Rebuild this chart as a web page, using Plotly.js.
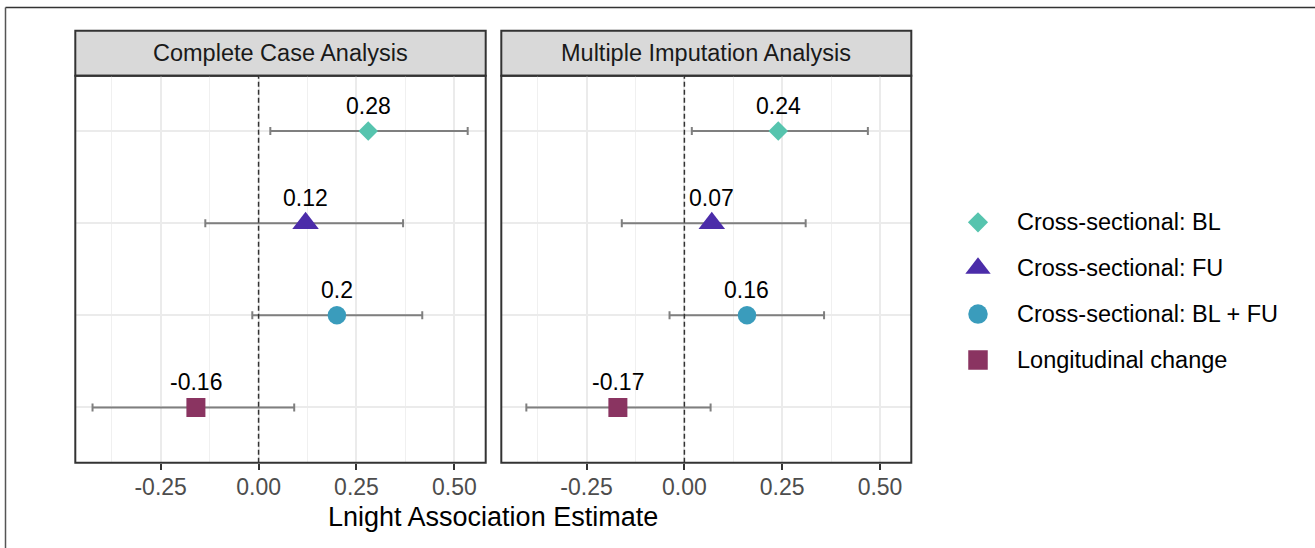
<!DOCTYPE html>
<html>
<head>
<meta charset="utf-8">
<script src="https://cdn.plot.ly/plotly-3.0.1.min.js"></script>
<style>
  html, body { margin: 0; padding: 0; background: #ffffff; }
  #chart { width: 1315px; height: 548px; }
</style>
</head>
<body>
<div id="chart"></div>
<script>
// ---- data ----
const categories = ["Cross-sectional: BL", "Cross-sectional: FU", "Cross-sectional: BL + FU", "Longitudinal change"];
const panelTitles = ["Complete Case Analysis", "Multiple Imputation Analysis"];

const ccaEstimate = [0.28, 0.12, 0.2, -0.16];
const ccaLower    = [0.030, -0.136, -0.016, -0.424];
const ccaUpper    = [0.534, 0.369, 0.418, 0.091];

const miEstimate  = [0.24, 0.07, 0.16, -0.17];
const miLower     = [0.019, -0.160, -0.038, -0.404];
const miUpper     = [0.469, 0.310, 0.357, 0.067];

const xTickValues = [-0.25, 0, 0.25, 0.5];
const xTickLabels = ["-0.25", "0.00", "0.25", "0.50"];
const xMinorValues = [-0.375, -0.125, 0.125, 0.375];
const xAxisTitle = "Lnight Association Estimate";

// ---- styles ----
const FONT = '"Liberation Sans", Arial, Helvetica, sans-serif';
const markerSymbols = ["diamond", "triangle-up", "circle", "square"];
const markerColors  = ["#56C4AE", "#4B2CA9", "#3A9CBC", "#8A3461"];
const markerSizes   = [15, 23, 18.5, 19];
const W = 1315, H = 548;
const px2x = p => p / W;
const px2y = p => (H - p) / H;

const panelsData = [
  {est: ccaEstimate, lo: ccaLower, hi: ccaUpper, xa: "x", ya: "y"},
  {est: miEstimate,  lo: miLower,  hi: miUpper,  xa: "x2", ya: "y2"}
];

const traces = panelsData.map(p => ({
  type: "scatter",
  mode: "markers",
  x: p.est,
  y: categories,
  xaxis: p.xa,
  yaxis: p.ya,
  showlegend: false,
  hoverinfo: "x+y",
  marker: {symbol: markerSymbols, color: markerColors, size: markerSizes, opacity: 1, line: {width: 0}},
  error_x: {
    type: "data", symmetric: false,
    array: p.hi.map((h, i) => h - p.est[i]),
    arrayminus: p.lo.map((l, i) => p.est[i] - l),
    color: "#7F7F7F", thickness: 2, width: 4
  }
}));

// custom legend drawn from the categories
traces.push({
  type: "scatter",
  mode: "markers",
  x: categories.map(() => 0),
  y: categories,
  xaxis: "x3",
  yaxis: "y3",
  showlegend: false,
  hoverinfo: "skip",
  marker: {symbol: markerSymbols, color: markerColors, size: [15.5, 22, 19.5, 19.5], opacity: 1, line: {width: 0}}
});

const annotations = [];
// value labels
panelsData.forEach(p => {
  p.est.forEach((v, i) => {
    annotations.push({
      x: v, y: categories[i], xref: p.xa, yref: p.ya,
      text: String(v), showarrow: false, yanchor: "middle", xanchor: "center",
      yshift: 25, font: {family: FONT, size: 23, color: "#000000"}
    });
  });
});
// legend labels
categories.forEach(c => {
  annotations.push({
    x: 37, y: c, xref: "x3", yref: "y3", text: c, showarrow: false,
    xanchor: "left", yanchor: "middle",
    font: {family: FONT, size: 23.5, color: "#000000"}
  });
});

const xDomains = [[px2x(75.3), px2x(485.7)], [px2x(501.3), px2x(911.3)]];
const yDomain = [px2y(462.7), px2y(75.7)];
const stripTop = px2y(30.7);

// strip labels
panelTitles.forEach((t, k) => {
  annotations.push({
    x: (xDomains[k][0] + xDomains[k][1]) / 2, y: (yDomain[1] + stripTop) / 2,
    xref: "paper", yref: "paper", text: t, showarrow: false,
    xanchor: "center", yanchor: "middle",
    font: {family: FONT, size: 23.5, color: "#1A1A1A"}
  });
});
// axis title
annotations.push({
  x: (xDomains[0][0] + xDomains[1][1]) / 2, y: px2y(517),
  xref: "paper", yref: "paper", text: xAxisTitle, showarrow: false,
  xanchor: "center", yanchor: "middle",
  font: {family: FONT, size: 27, color: "#000000"}
});

const shapes = [];
["x", "x2"].forEach((xa, k) => {
  const ya = k === 0 ? "y" : "y2";
  // zero reference line
  shapes.push({type: "line", xref: xa, yref: ya + " domain", x0: 0, x1: 0, y0: 0, y1: 1,
    line: {color: "#333333", width: 1.5, dash: "5px,3px"}, layer: "above"});
  // panel border
  shapes.push({type: "rect", xref: xa + " domain", yref: ya + " domain", x0: 0, x1: 1, y0: 0, y1: 1,
    line: {color: "#333333", width: 2}, fillcolor: "rgba(0,0,0,0)", layer: "above"});
  // strip
  shapes.push({type: "rect", xref: "paper", yref: "paper",
    x0: xDomains[k][0], x1: xDomains[k][1], y0: yDomain[1], y1: stripTop,
    line: {color: "#333333", width: 2}, fillcolor: "#D9D9D9", layer: "below"});
});
// outer frame (top and left edges)
shapes.push({type: "line", xref: "paper", yref: "paper", x0: px2x(5.5), x1: 1, y0: px2y(7.5), y1: px2y(7.5),
  line: {color: "#333333", width: 1.5}});
shapes.push({type: "line", xref: "paper", yref: "paper", x0: px2x(5.5), x1: px2x(5.5), y0: 0, y1: px2y(7.5),
  line: {color: "#555555", width: 1.5}});

const xAxisBase = {
  range: [-0.468, 0.58],
  tickmode: "array", tickvals: xTickValues, ticktext: xTickLabels,
  ticks: "outside", ticklen: 6, tickwidth: 2, tickcolor: "#333333",
  ticklabelstandoff: -2,
  tickfont: {family: FONT, size: 23, color: "#4D4D4D"},
  showgrid: true, gridcolor: "#EBEBEB", gridwidth: 2,
  minor: {tickmode: "array", tickvals: xMinorValues, showgrid: true, gridcolor: "#F0F0F0", gridwidth: 1, ticks: ""},
  zeroline: false, showline: false, fixedrange: true
};
const yAxisBase = {
  type: "category", categoryorder: "array", categoryarray: categories,
  range: [3.6, -0.6], showticklabels: false, ticks: "",
  showgrid: true, gridcolor: "#EBEBEB", gridwidth: 2,
  zeroline: false, showline: false, domain: yDomain, fixedrange: true
};

const layout = {
  width: W, height: H,
  margin: {l: 0, r: 0, t: 0, b: 0},
  paper_bgcolor: "#ffffff", plot_bgcolor: "#ffffff",
  font: {family: FONT},
  showlegend: false,
  xaxis: Object.assign({}, xAxisBase, {domain: xDomains[0], anchor: "y"}),
  xaxis2: Object.assign({}, xAxisBase, {domain: xDomains[1], anchor: "y2"}),
  yaxis: Object.assign({}, yAxisBase, {anchor: "x"}),
  yaxis2: Object.assign({}, yAxisBase, {anchor: "x2"}),
  xaxis3: {domain: [px2x(920), 1], range: [-58, 337], visible: false, fixedrange: true, anchor: "y3"},
  yaxis3: {domain: [px2y(382.95), px2y(199.35)], type: "category", categoryorder: "array", categoryarray: categories,
    range: [3.5, -0.5], visible: false, fixedrange: true, anchor: "x3"},
  annotations: annotations,
  shapes: shapes
};

Plotly.newPlot("chart", traces, layout, {displayModeBar: false, staticPlot: true});
</script>
</body>
</html>
